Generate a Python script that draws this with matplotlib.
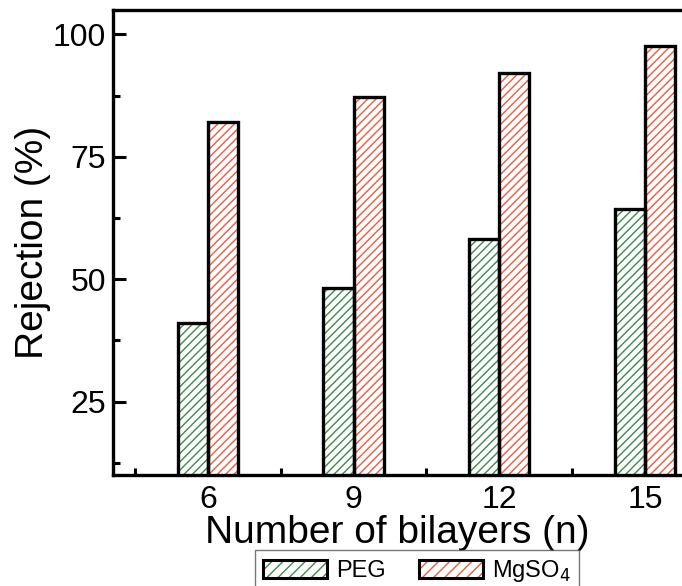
import numpy as np
import matplotlib.pyplot as plt
from matplotlib.patches import Patch
from matplotlib.ticker import MultipleLocator

plt.rcParams['font.family'] = ['Liberation Sans', 'DejaVu Sans']
plt.rcParams['hatch.linewidth'] = 1.0

layers = [6, 9, 12, 15]
peg = [41.0, 48.2, 58.2, 64.3]
mgso4 = [82.1, 87.2, 92.1, 97.7]
labels = ['PEG', 'MgSO$_4$']
colors = ['#3d8a4c', '#ee5a3e']

fig = plt.figure(figsize=(6.82, 5.86), dpi=100)
ax = fig.add_axes([113 / 682, 1 - 475 / 586, 1 - 113 / 682, 465 / 586])

x = np.array(layers, dtype=float)
w = 0.62
for i, vals in enumerate([peg, mgso4]):
    pos = x + (i - 0.5) * w
    ax.bar(pos, vals, w, bottom=0, color='white', edgecolor=colors[i],
           hatch='////', linewidth=0, zorder=2)
    ax.bar(pos, vals, w, bottom=0, fill=False, edgecolor='black',
           linewidth=2.4, zorder=3)

ax.set_xlim(4.05, 15.76)
ax.set_ylim(10, 105)
ax.set_xticks(layers)
ax.yaxis.set_major_locator(MultipleLocator(25))
ax.yaxis.set_minor_locator(MultipleLocator(12.5))
ax.xaxis.set_minor_locator(MultipleLocator(1.5))
ax.tick_params(which='both', direction='in', width=2.2, labelsize=23)
ax.tick_params(which='major', length=9, pad=5)
ax.tick_params(which='minor', length=5)
ax.tick_params(axis='x', which='both', top=False, pad=7)
ax.tick_params(axis='y', which='both', right=False)
for s in ['left', 'bottom', 'top']:
    ax.spines[s].set_linewidth(2.4)
ax.spines['right'].set_visible(False)

ax.set_ylabel('Rejection (%)', fontsize=28, labelpad=1)
ax.set_xlabel('Number of bilayers (n)', fontsize=28, labelpad=0)

handles = []
for c in colors:
    handles.append((Patch(facecolor='white', edgecolor=c, hatch='///', linewidth=0),
                    Patch(fill=False, edgecolor='black', linewidth=2.2)))
leg = fig.legend(handles, labels, loc='upper left', bbox_to_anchor=(255 / 682, 1 - 550 / 586),
                 ncol=2, fontsize=17, frameon=True, fancybox=False, edgecolor='#555555',
                 handlelength=2.7, handleheight=0.75, columnspacing=1.4, handletextpad=0.4,
                 borderpad=0.35, borderaxespad=0)
leg.get_frame().set_linewidth(1)

fig.savefig('out.png', dpi=100)
